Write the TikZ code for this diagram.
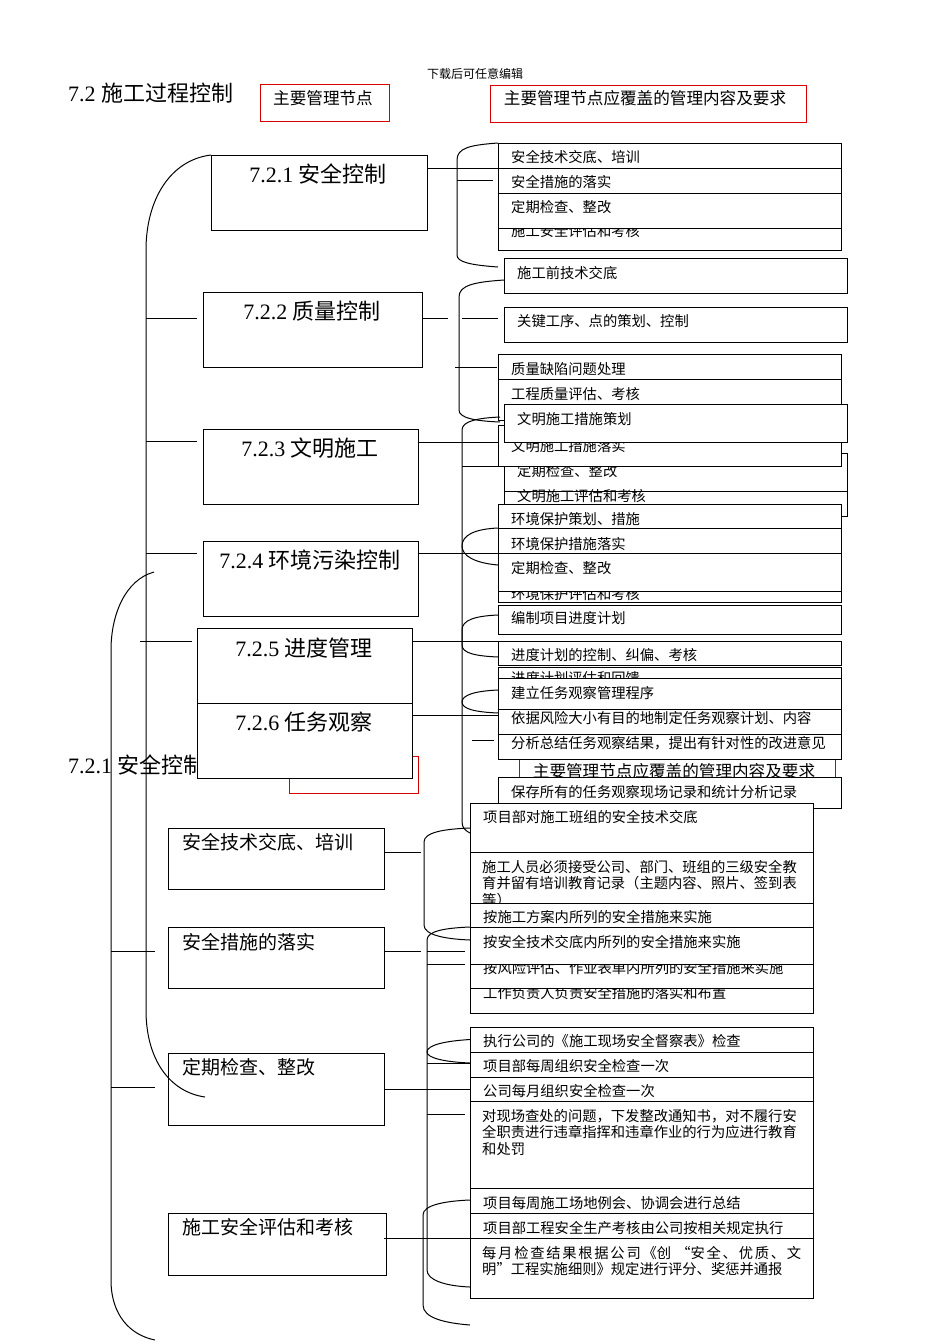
\documentclass[tikz,border=0pt]{standalone}
\usepackage{fontspec}
\setmainfont{Liberation Serif}
\newfontfamily\cjk{Noto Sans CJK SC}
\newcommand\BX[7]{%
  \node[boxst, anchor=north west, minimum width={(#4-#2)*1pt}, minimum height={(#5-#3)*1pt}] (#1) at (#2,#3) {};
  \node[stxt] (#1t) at ({#2+13},#6) {#7};
}
\tikzset{
  ln/.style={draw=black, line width=1pt},
  boxst/.style={draw=black, line width=1pt, fill=white, inner sep=0pt, outer sep=0pt},
  redst/.style={draw=red!85!black, line width=1pt, fill=white, inner sep=0pt, outer sep=0pt},
  stxt/.style={font=\cjk\fontsize{14.3}{16.5}\selectfont, inner sep=0pt, anchor=west, text height=12.2pt, text depth=2pt},
  mtxt/.style={font=\cjk\fontsize{14.3}{16.5}\selectfont, inner sep=0pt, anchor=north west, align=left},
  ltxt/.style={font=\cjk\fontsize{19}{21}\selectfont, inner sep=0pt, anchor=west, text height=16.5pt, text depth=3pt},
  ttxt/.style={font=\fontsize{22}{25}\selectfont, inner sep=0pt, text height=19pt, text depth=3pt},
  rtxt/.style={font=\cjk\fontsize{16.6}{18}\selectfont, inner sep=0pt, text height=14pt, text depth=2.5pt},
}
\begin{document}
\begin{tikzpicture}[x=1pt,y=-1pt]
\path[use as bounding box, fill=white] (0,0) rectangle (950,1344);

% ---------- header ----------
\node[font=\cjk\fontsize{12}{14}\selectfont, inner sep=0pt] (hdr) at (475,74) {下载后可任意编辑};
\node[ttxt, anchor=west] (title) at (68,93) {7.2 {\cjk 施工过程控制}};
\node[redst, anchor=north west, minimum width=129pt, minimum height=37pt] (red1) at (260,84) {};
\node[rtxt] (red1t) at (323,99) {主要管理节点};
\node[redst, anchor=north west, minimum width=316pt, minimum height=37pt] (red2) at (490,85) {};
\node[rtxt] (red2t) at (645,99) {主要管理节点应覆盖的管理内容及要求};

% ---------- level 1 boxes ----------
\node[boxst, anchor=north west, minimum width=216pt, minimum height=75pt] (b1) at (211,155) {};
\node[ttxt] (b1t) at (318,174) {7.2.1 {\cjk 安全控制}};
\node[boxst, anchor=north west, minimum width=219pt, minimum height=75pt] (b2) at (203,292) {};
\node[ttxt] (b2t) at (312,311) {7.2.2 {\cjk 质量控制}};
\node[boxst, anchor=north west, minimum width=215pt, minimum height=75pt] (b3) at (203,429) {};
\node[ttxt] (b3t) at (310,448) {7.2.3 {\cjk 文明施工}};
\node[boxst, anchor=north west, minimum width=215pt, minimum height=75pt] (b4) at (203,541) {};
\node[ttxt] (b4t) at (310,560) {7.2.4 {\cjk 环境污染控制}};
\node[redst, anchor=north west, minimum width=129pt, minimum height=37pt] (red3) at (289,756) {};
\node[ttxt, anchor=west] (b7t) at (68,765) {7.2.1 {\cjk 安全控制}};
\node[boxst, anchor=north west, minimum width=215pt, minimum height=75pt] (b5) at (197,628) {};
\node[ttxt] (b5t) at (304,648) {7.2.5 {\cjk 进度管理}};
\node[boxst, anchor=north west, minimum width=215pt, minimum height=75pt] (b6) at (197,703) {};
\node[ttxt] (b6t) at (304,722) {7.2.6 {\cjk 任务观察}};

% ---------- level 2 boxes (bottom left) ----------
\node[boxst, anchor=north west, minimum width=216pt, minimum height=61pt] (c1) at (168,828) {};
\node[ltxt] (c1t) at (182,843) {安全技术交底、培训};
\node[boxst, anchor=north west, minimum width=216pt, minimum height=61pt] (c2) at (168,927) {};
\node[ltxt] (c2t) at (182,943) {安全措施的落实};
\node[boxst, anchor=north west, minimum width=216pt, minimum height=72pt] (c3) at (168,1053) {};
\node[ltxt] (c3t) at (182,1068) {定期检查、整改};
\node[boxst, anchor=north west, minimum width=218pt, minimum height=62pt] (c4) at (168,1213) {};
\node[ltxt] (c4t) at (182,1228) {施工安全评估和考核};

% ---------- right column, top ----------
\BX{sa4}{498}{205}{841}{250}{231}{施工安全评估和考核}
\BX{sa1}{498}{143}{841}{168}{157}{安全技术交底、培训}
\BX{sa2}{498}{168}{841}{193}{182}{安全措施的落实}
\BX{sa3}{498}{193}{841}{228}{207}{定期检查、整改}

\BX{qa1}{504}{258}{847}{293}{273}{施工前技术交底}
\BX{qa2}{504}{307}{847}{342}{321}{关键工序、点的策划、控制}
\BX{qa3}{498}{354}{841}{379}{369}{质量缺陷问题处理}
\BX{qa4}{498}{379}{841}{420}{394}{工程质量评估、考核}

\BX{wa3}{504}{453}{847}{491}{471}{定期检查、整改}
\BX{wa4}{504}{491}{847}{516}{496}{文明施工评估和考核}
\BX{wa2}{498}{425}{841}{466}{446}{文明施工措施落实}
\BX{wa1}{504}{404}{847}{442}{419}{文明施工措施策划}

\BX{ea4}{498}{575}{841}{602}{594}{环境保护评估和考核}
\BX{ea1}{498}{504}{841}{528}{519}{环境保护策划、措施}
\BX{ea2}{498}{528}{841}{553}{544}{环境保护措施落实}
\BX{ea3}{498}{553}{841}{591}{568}{定期检查、整改}

\BX{pa1}{498}{605}{841}{634}{618}{编制项目进度计划}
\BX{pa2}{498}{641}{841}{665}{655}{进度计划的控制、纠偏、考核}
\BX{pa3}{498}{667}{841}{700}{678}{进度计划评估和回馈}

\BX{ta1}{498}{678}{841}{709}{693}{建立任务观察管理程序}
\BX{ta2}{498}{709}{841}{734}{718}{依据风险大小有目的地制定任务观察计划、内容}
\node[redst, anchor=north west, minimum width=316pt, minimum height=55pt] (red4) at (519,745) {};
\node[rtxt] (red4t) at (674,772) {主要管理节点应覆盖的管理内容及要求};
\BX{ta3}{498}{734}{841}{759}{743}{分析总结任务观察结果，提出有针对性的改进意见}
\BX{ta4}{498}{777}{841}{808}{792}{保存所有的任务观察现场记录和统计分析记录}

% ---------- right column, bottom ----------
\BX{va1}{470}{803}{813}{852}{817}{项目部对施工班组的安全技术交底}
\node[boxst, anchor=north west, minimum width=343pt, minimum height=68pt] (va2) at (470,852) {};
\node[mtxt] (va2t) at (482,860) {施工人员必须接受公司、部门、班组的三级安全教\\育并留有培训教育记录（主题内容、照片、签到表\\等）};
\BX{va6}{470}{975}{813}{1013}{993}{工作负责人负责安全措施的落实和布置}
\BX{va5}{470}{945}{813}{988}{968}{按风险评估、作业表单内所列的安全措施来实施}
\BX{va3}{470}{903}{813}{940}{917}{按施工方案内所列的安全措施来实施}
\BX{va4}{470}{927}{813}{964}{942}{按安全技术交底内所列的安全措施来实施}

\BX{wb1}{470}{1027}{813}{1052}{1041}{执行公司的《施工现场安全督察表》检查}
\BX{wb2}{470}{1052}{813}{1077}{1066}{项目部每周组织安全检查一次}
\BX{wb3}{470}{1077}{813}{1101}{1091}{公司每月组织安全检查一次}
\node[boxst, anchor=north west, minimum width=343pt, minimum height=87pt] (wb4) at (470,1101) {};
\node[mtxt] (wb4t) at (482,1109) {对现场查处的问题，下发整改通知书，对不履行安\\全职责进行违章指挥和违章作业的行为应进行教育\\和处罚};

\BX{xb1}{470}{1188}{813}{1213}{1203}{项目每周施工场地例会、协调会进行总结}
\BX{xb2}{470}{1213}{813}{1238}{1228}{项目部工程安全生产考核由公司按相关规定执行}
\node[boxst, anchor=north west, minimum width=343pt, minimum height=60pt] (xb3) at (470,1238) {};
\node[mtxt] (xb3t) at (482,1246) {\makebox[319pt][s]{每\hfil 月\hfil 检\hfil 查\hfil 结\hfil 果\hfil 根\hfil 据\hfil 公\hfil 司\hfil 《创\hfil\hfil\hfil “安\hfil 全\hfil 、\hfil 优\hfil 质\hfil 、\hfil 文}\\明”工程实施细则》规定进行评分、奖惩并通报};

% ---------- left brackets ----------
\draw[ln] (b1.north west) .. controls (170,160) and (146,200) .. (146,250) -- (146,1010) .. controls (146,1060) and (170,1092) .. (205,1097);
\draw[ln] (146,318) -- (197,318);
\draw[ln] (146,441) -- (197,441);
\draw[ln] (146,553) -- (197,553);
\draw[ln] (140,641) -- (192,641);

\draw[ln] (154,572) .. controls (125,580) and (111,615) .. (111,650) -- (111,1280) .. controls (111,1315) and (130,1335) .. (155,1340);
\draw[ln] (111,951) -- (155,951);
\draw[ln] (111,1087) -- (155,1087);

% ---------- top right connectors ----------
\draw[ln] (b1.east |- sa2.north west) -- (sa2.north west);
\draw[ln] (sa1.north west) .. controls (470,145) and (457,148) .. (457,160) -- (457,255) .. controls (457,262) and (470,265) .. (498,267);
\draw[ln] (457,180) -- (493,180);

\draw[ln] (b2.east |- 0,318) -- (448,318);
\draw[ln] (462,318) -- (498,318);
\draw[ln] (504,280) .. controls (475,282) and (459,285) .. (459,297) -- (459,410) .. controls (459,418) and (475,421) .. (500,422);
\draw[ln] (455,367) -- (497,367);

\draw[ln] (b3.east |- 0,442) -- (498,442);
\draw[ln] (500,417) .. controls (478,418) and (462,421) .. (462,430) -- (462,822) .. controls (462,828) and (466,831) .. (470,833);
\draw[ln] (462,466) -- (498,466);

\draw[ln] (b4.east |- 0,553) -- (498,553);
\draw[ln] (498,528) .. controls (475,529) and (462,535) .. (462,546) .. controls (462,556) and (475,563) .. (498,565);

\draw[ln] (b5.east |- 0,641) -- (498,641);
\draw[ln] (498,615) .. controls (475,616) and (462,620) .. (462,630) -- (462,645) .. controls (462,653) and (475,656) .. (498,657);

\draw[ln] (b6.east |- 0,715) -- (498,715);
\draw[ln] (498,690) .. controls (475,691) and (462,695) .. (462,702) .. controls (462,709) and (475,712) .. (498,713);
\draw[ln] (472,740) -- (494,740);

% ---------- bottom right connectors ----------
\draw[ln] (c1.east |- 0,852) -- (421,852);
\draw[ln] (470,828) .. controls (445,829) and (424,832) .. (424,842) -- (424,925) .. controls (424,935) and (445,939) .. (470,940);

\draw[ln] (c2.east |- 0,951) -- (421,951);
\draw[ln] (427,951) -- (465,951);
\draw[ln] (427,964) -- (465,964);
\draw[ln] (470,927) .. controls (445,928) and (427,931) .. (427,940) -- (427,1270) .. controls (427,1280) and (445,1286) .. (470,1287);

\draw[ln] (c3.east |- 0,1089) -- (470,1089);
\draw[ln] (wb1.west) .. controls (445,1041) and (427,1045) .. (427,1052) .. controls (427,1058) and (445,1062) .. (470,1063);
\draw[ln] (427,1063) -- (470,1063);
\draw[ln] (427,1114) -- (465,1114);

\draw[ln] (384,1238) -- (xb3.north west);
\draw[ln] (470,1200) .. controls (445,1201) and (423,1205) .. (423,1215) -- (423,1305) .. controls (423,1318) and (445,1323) .. (470,1325);
\end{tikzpicture}
\end{document}
